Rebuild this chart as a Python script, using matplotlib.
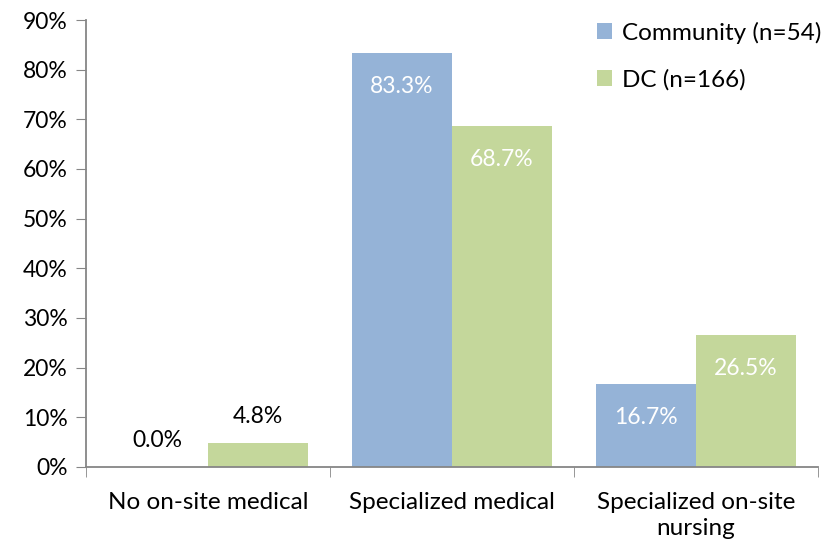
import numpy as np
import matplotlib
matplotlib.use('Agg')
import matplotlib.pyplot as plt
from matplotlib.ticker import FixedLocator, PercentFormatter

plt.rcParams['font.family'] = ['Lato', 'DejaVu Sans']

# Daten
categories = ['No on-site medical', 'Specialized medical', 'Specialized on-site\nnursing']
community = [0.0, 83.3, 16.7]
dc = [4.8, 68.7, 26.5]
series_names = ['Community (n=54)', 'DC (n=166)']
colors = ['#95b3d7', '#c4d79b']

fig = plt.figure(figsize=(8.26, 5.48), dpi=100)
ax = fig.add_axes([0.104, 0.148, 0.886, 0.8155])

x = np.arange(len(categories))
w = 0.41
b1 = ax.bar(x - w / 2, community, w, color=colors[0], label=series_names[0])
b2 = ax.bar(x + w / 2, dc, w, color=colors[1], label=series_names[1])

# Beschriftungen: innen weiss, kleine Werte oben schwarz
for bars, vals in [(b1, community), (b2, dc)]:
    for bar, v in zip(bars, vals):
        cx = bar.get_x() + bar.get_width() / 2
        if v < 10:
            ax.annotate(f'{v:.1f}%', (cx, v), xytext=(0, 19), textcoords='offset points',
                        ha='center', va='center', fontsize=16.5, color='black')
        else:
            ax.annotate(f'{v:.1f}%', (cx, v), xytext=(0, -24), textcoords='offset points',
                        ha='center', va='center', fontsize=16.5, color='white')

ax.set_xlim(-0.5, 2.5)
ax.set_ylim(0, 90)
ax.set_yticks(np.arange(0, 91, 10))
ax.yaxis.set_major_formatter(PercentFormatter(decimals=0))
ax.set_xticks(x)
ax.set_xticklabels(categories, fontsize=17.5, linespacing=1.3)
ax.xaxis.set_minor_locator(FixedLocator([-0.5, 0.5, 1.5, 2.5]))
ax.tick_params(axis='x', which='major', length=0, pad=18)
ax.tick_params(axis='x', which='minor', length=7, color='#868686')
ax.tick_params(axis='y', length=7, color='#868686', labelsize=16.5, pad=6)

for s in ['top', 'right']:
    ax.spines[s].set_visible(False)
for s in ['left', 'bottom']:
    ax.spines[s].set_color('#868686')
    ax.spines[s].set_linewidth(1.3)

ax.legend(loc='upper left', bbox_to_anchor=(0.668, 1.045), frameon=False, fontsize=17.5,
          handlelength=0.65, handleheight=0.65, handletextpad=0.4, labelspacing=1.05)

fig.savefig('out.png', dpi=100)
